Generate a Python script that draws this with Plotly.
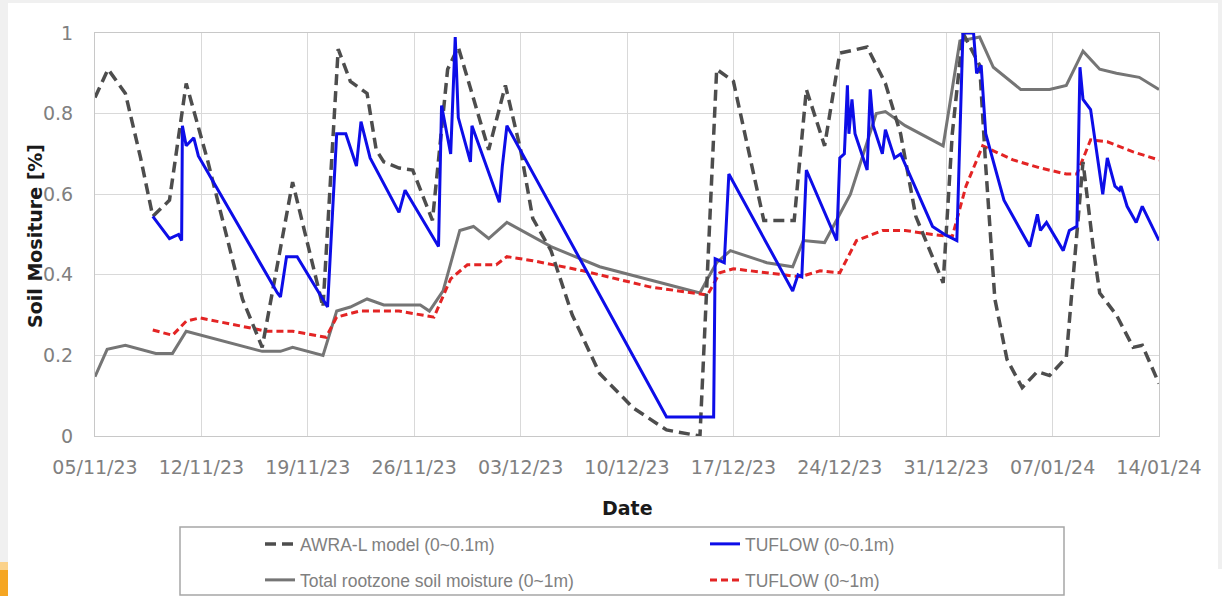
import pandas as pd
import plotly.graph_objects as go

START = pd.Timestamp("2023-11-05")

# AWRA-L model (0~0.1m)  -- day offsets from 05/11/23 and values
awra_days = [0, 0.86, 2, 3, 3.8, 4.9, 6.0, 7.4, 9.7, 11.0, 13.0, 14.6, 15.0, 16.0, 16.8, 17.9,
             18.5, 19.0, 20.0, 20.9, 22.2, 23.2, 23.9, 25.9, 27.0, 28.0, 28.8, 30.0, 31.4, 33.2,
             35.4, 37.6, 39.8, 40.9, 42.0, 44.0, 46.0, 46.8, 48.0, 49.0, 50.8, 52.0, 53.0, 54.0,
             55.8, 56.4, 57.1, 58.2, 58.6, 59.2, 60.0, 61.0, 62.0, 62.8, 63.9, 65.0, 65.7, 66.1,
             67.2, 68.3, 68.9, 70]
awra_vals = [0.84, 0.91, 0.85, 0.69, 0.545, 0.585, 0.875, 0.685, 0.34, 0.22, 0.63, 0.38, 0.32,
             0.96, 0.88, 0.85, 0.71, 0.68, 0.665, 0.66, 0.535, 0.91, 0.965, 0.71, 0.87, 0.71, 0.54,
             0.46, 0.30, 0.155, 0.07, 0.015, 0.0, 0.91, 0.88, 0.535, 0.535, 0.86, 0.72, 0.95,
             0.965, 0.875, 0.75, 0.545, 0.38, 0.75, 1.0, 0.92, 0.67, 0.34, 0.19, 0.12, 0.16, 0.15,
             0.195, 0.68, 0.46, 0.355, 0.30, 0.22, 0.225, 0.13]

# TUFLOW (0~0.1m)
tuf01_days = [3.8, 4.9, 5.5, 5.7, 5.75, 6.0, 6.5, 6.8, 12.0, 12.2, 12.6, 13.3, 15.3, 15.9, 16.5,
              17.2, 17.5, 18.1, 20.0, 20.4, 22.6, 22.8, 23.4, 23.7, 23.9, 24.7, 24.8, 26.6, 26.8,
              27.1, 37.6, 40.7, 40.8, 41.4, 41.7, 45.9, 46.25, 46.5, 46.8, 48.8, 49.0, 49.3, 49.5,
              49.6, 49.8, 50.0, 50.8, 51.0, 51.2, 51.8, 52.0, 52.6, 53.0, 55.1, 55.9, 56.7, 57.1,
              57.8, 58.0, 58.3, 58.6, 59.8, 61.5, 62.0, 62.2, 62.6, 63.7, 64.1, 64.6, 64.8, 65.0,
              65.5, 66.3, 66.6, 67.1, 67.4, 67.5, 67.9, 68.5, 68.9, 70]
tuf01_vals = [0.545, 0.49, 0.50, 0.485, 0.77, 0.72, 0.74, 0.695, 0.355, 0.345, 0.445, 0.445, 0.32,
              0.75, 0.75, 0.67, 0.78, 0.69, 0.555, 0.61, 0.47, 0.82, 0.70, 0.99, 0.79, 0.68, 0.77,
              0.58, 0.67, 0.77, 0.047, 0.047, 0.44, 0.43, 0.65, 0.36, 0.40, 0.395, 0.66, 0.485,
              0.69, 0.70, 0.87, 0.75, 0.835, 0.75, 0.66, 0.86, 0.77, 0.70, 0.76, 0.69, 0.70, 0.52,
              0.50, 0.485, 1.0, 1.0, 0.90, 0.92, 0.75, 0.585, 0.47, 0.55, 0.51, 0.53, 0.46, 0.51,
              0.52, 0.915, 0.835, 0.81, 0.60, 0.69, 0.62, 0.61, 0.62, 0.57, 0.53, 0.57, 0.485]

# Total rootzone soil moisture (0~1m)
root_days = [0, 0.8, 2, 4, 5.1, 6, 11, 12.2, 13, 14, 15, 15.9, 16.8, 17.9, 19, 21.4, 22, 22.9,
             24, 24.9, 25.9, 27.1, 30, 33.2, 39.8, 40.3, 40.9, 41.8, 44.2, 45.9, 46.6, 48, 49.7,
             51.4, 52, 53.3, 55.8, 56.9, 58.2, 59.1, 60.9, 62.8, 63.9, 65, 66.1, 67.2, 68.7, 70]
root_vals = [0.147, 0.215, 0.225, 0.205, 0.205, 0.26, 0.21, 0.21, 0.22, 0.21, 0.20, 0.31, 0.32,
             0.34, 0.325, 0.325, 0.31, 0.36, 0.51, 0.52, 0.49, 0.53, 0.47, 0.42, 0.355, 0.39,
             0.43, 0.46, 0.43, 0.42, 0.485, 0.48, 0.60, 0.80, 0.805, 0.77, 0.72, 0.98, 0.99,
             0.915, 0.86, 0.86, 0.87, 0.955, 0.91, 0.90, 0.89, 0.86]

# TUFLOW (0~1m)
tuf1_days = [3.8, 5.1, 6.0, 6.9, 11.3, 13.0, 15.2, 15.9, 17.4, 20.0, 22.3, 23.4, 24.5, 26.4, 27.1,
             28.8, 32.1, 36.5, 40.3, 41.1, 42.0, 46.4, 47.7, 49.0, 50.1, 51.8, 53.3, 55.1, 56.4,
             57.3, 58.4, 60.4, 62.2, 63.9, 64.6, 65.5, 66.6, 68.3, 70]
tuf1_vals = [0.263, 0.25, 0.285, 0.293, 0.26, 0.26, 0.245, 0.295, 0.31, 0.31, 0.295, 0.39, 0.425,
             0.425, 0.445, 0.435, 0.41, 0.37, 0.35, 0.405, 0.415, 0.395, 0.41, 0.405, 0.485, 0.51,
             0.51, 0.50, 0.495, 0.62, 0.72, 0.685, 0.665, 0.65, 0.65, 0.735, 0.73, 0.705, 0.685]

y_tickvals = [0, 0.2, 0.4, 0.6, 0.8, 1.0]
y_ticktext = ["0", "0.2", "0.4", "0.6", "0.8", "1"]


def to_dates(days):
    return START + pd.to_timedelta(days, unit="D")


fig = go.Figure()
fig.add_trace(go.Scatter(x=to_dates(root_days), y=root_vals, mode="lines",
                         name="Total rootzone soil moisture (0~1m)",
                         line=dict(color="#757575", width=3), legend="legend2"))
fig.add_trace(go.Scatter(x=to_dates(tuf1_days), y=tuf1_vals, mode="lines",
                         name="TUFLOW (0~1m)",
                         line=dict(color="#e32424", width=3, dash="7px,4px"), legend="legend2"))
fig.add_trace(go.Scatter(x=to_dates(awra_days), y=awra_vals, mode="lines",
                         name="AWRA-L model (0~0.1m)",
                         line=dict(color="#4d4d4d", width=3.5, dash="11px,6px"), legend="legend"))
fig.add_trace(go.Scatter(x=to_dates(tuf01_days), y=tuf01_vals, mode="lines",
                         name="TUFLOW (0~0.1m)",
                         line=dict(color="#0d0de8", width=3), legend="legend"))

W, H = 1222, 596
# plot area in page pixels: x 95..1159, y 33..436
PL, PR, PT, PB = 95, 1159, 33, 436
def px_x(p):
    return (p - PL) / (PR - PL)
def px_y(p):
    return (PB - p) / (PB - PT)

shapes = [
    dict(type="rect", xref="paper", yref="paper", x0=px_x(8), x1=px_x(1218), y0=px_y(3), y1=px_y(600),
         fillcolor="white", line=dict(width=0), layer="below"),
    dict(type="rect", xref="paper", yref="paper", x0=px_x(1217), x1=px_x(1224), y0=px_y(569), y1=px_y(600),
         fillcolor="white", line=dict(width=0), layer="below"),
    dict(type="rect", xref="paper", yref="paper", x0=px_x(-2), x1=px_x(8), y0=px_y(562), y1=px_y(570),
         fillcolor="#fbd28a", line=dict(width=0), layer="below"),
    dict(type="rect", xref="paper", yref="paper", x0=px_x(-2), x1=px_x(8), y0=px_y(570), y1=px_y(600),
         fillcolor="#f5a623", line=dict(width=0), layer="below"),
    dict(type="rect", xref="paper", yref="paper", x0=px_x(180), x1=px_x(1064), y0=px_y(527), y1=px_y(595),
         fillcolor="rgba(0,0,0,0)", line=dict(width=1.5, color="#a6a6a6"), layer="above"),
]

annotations = [
    dict(text="Date", xref="paper", yref="paper", x=px_x(627), y=px_y(508), showarrow=False,
         xanchor="center", yanchor="middle",
         font=dict(family="DejaVu Sans", size=19, color="#1a1a1a", weight="bold")),
    dict(text="Soil Mositure [%]", xref="paper", yref="paper", x=px_x(35), y=px_y(236), showarrow=False,
         xanchor="center", yanchor="middle", textangle=-90,
         font=dict(family="DejaVu Sans", size=19, color="#1a1a1a", weight="bold")),
]

legend_common = dict(orientation="h", xanchor="left", yanchor="middle",
                     xref="container", yref="container",
                     entrywidth=400, entrywidthmode="pixels", bgcolor="rgba(0,0,0,0)",
                     borderwidth=0, itemwidth=30,
                     font=dict(family="Liberation Sans", size=17.5, color="#808080"))

fig.update_layout(
    width=W, height=H, autosize=False,
    margin=dict(l=PL, r=W - PR, t=PT, b=H - PB, autoexpand=False),
    paper_bgcolor="#f0f0f0", plot_bgcolor="white",
    showlegend=True,
    legend=dict(x=260 / W, y=1 - 544 / H, **legend_common),
    legend2=dict(x=260 / W, y=1 - 580 / H, **legend_common),
    shapes=shapes, annotations=annotations,
    xaxis=dict(type="date", range=[START, START + pd.Timedelta(days=70)],
               tick0=START, dtick=7 * 24 * 3600 * 1000, tickformat="%d/%m/%y",
               showgrid=True, gridcolor="#d9d9d9", gridwidth=1,
               showline=True, linecolor="#c8c8c8", linewidth=1, mirror=True,
               ticks="outside", ticklen=14, tickcolor="rgba(0,0,0,0)",
               tickfont=dict(family="DejaVu Sans", size=19, color="#808080"),
               zeroline=False, automargin=False),
    yaxis=dict(range=[0, 1], tickvals=y_tickvals, ticktext=y_ticktext,
               showgrid=True, gridcolor="#d9d9d9", gridwidth=1,
               showline=True, linecolor="#c8c8c8", linewidth=1, mirror=True,
               ticks="outside", ticklen=17, tickcolor="rgba(0,0,0,0)",
               tickfont=dict(family="DejaVu Sans", size=19, color="#808080"),
               zeroline=False, automargin=False),
)

fig.write_html("out.html", config={"displayModeBar": False},
               post_script="document.body.style.margin='0px';")
